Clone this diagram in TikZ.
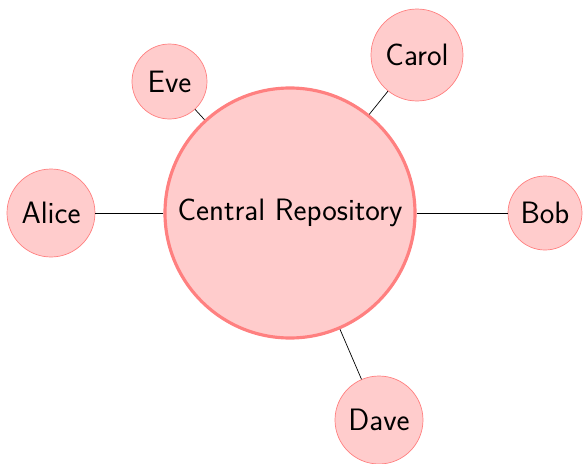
\documentclass[tikz,border=0pt]{standalone}
\usepackage{tikz}
\usetikzlibrary{positioning,calc}

\begin{document}
\begin{tikzpicture}[
    user/.style={circle,draw=red!50,fill=red!20,inner sep=0pt},
    hub/.style={user,line width=1.8pt},
    every node/.style={font=\sffamily\fontsize{17.6pt}{21pt}\selectfont}]
  \useasboundingbox (-5.8,-5.0) rectangle (5.86,4.26);
  \node[hub,minimum size=5cm] (repo) at (0,0) {Central Repository};
  \node[user,minimum size=1.76cm] (alice) at (-4.78,0) {Alice};
  \node[user,minimum size=1.48cm] (bob) at (5.1,0) {Bob};
  \node[user,minimum size=1.84cm] (carol) at (2.54,3.16) {Carol};
  \node[user,minimum size=1.76cm] (dave) at (1.78,-4.14) {Dave};
  \node[user,minimum size=1.5cm] (eve) at (-2.41,2.63) {Eve};
  \draw (repo) -- (alice);
  \draw (repo) -- (bob);
  \draw (repo) -- (carol);
  \draw (repo) -- (dave);
  \draw (repo) -- (eve);
\end{tikzpicture}
\end{document}
